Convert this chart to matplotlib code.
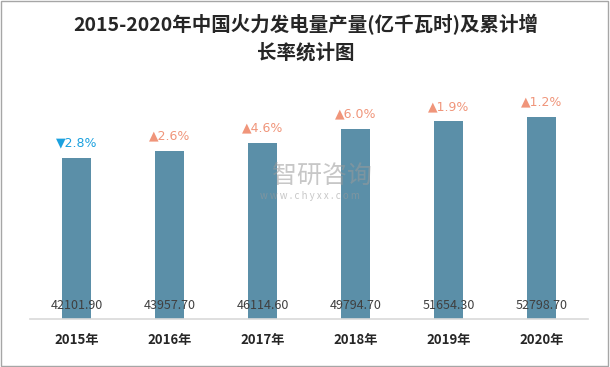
import matplotlib
matplotlib.use("Agg")
import matplotlib.pyplot as plt

plt.rcParams['font.family'] = ['Noto Sans CJK SC', 'DejaVu Sans']

years = ["2015年", "2016年", "2017年", "2018年", "2019年", "2020年"]
values = [42101.90, 43957.70, 46114.60, 49794.70, 51654.30, 52798.70]
growth = [-2.8, 2.6, 4.6, 6.0, 1.9, 1.2]

W, H = 610, 367
fig = plt.figure(figsize=(W / 100, H / 100), dpi=100)

# figure border
fig.patches.append(plt.Rectangle((0.002, 0.003), 0.994, 0.994, transform=fig.transFigure,
                                 fill=False, edgecolor='#a6a6a6', linewidth=1.0))

ax_left, ax_right = 30 / W, 588 / W
ax_bottom, ax_top = (H - 319) / H, (H - 80) / H
ax = fig.add_axes([ax_left, ax_bottom, ax_right - ax_left, ax_top - ax_bottom])

x = list(range(len(years)))
ax.bar(x, values, width=0.31, color='#5B8FA8', zorder=2)
ax.set_xlim(-0.5, len(years) - 0.5)
ax.set_ylim(0, 62500)

for s in ['top', 'right', 'left']:
    ax.spines[s].set_visible(False)
ax.spines['bottom'].set_color('#d9d9d9')
ax.spines['bottom'].set_linewidth(1.2)
ax.set_yticks([])
ax.set_xticks(x)
ax.set_xticklabels(years, fontsize=9.5, fontweight='bold', color='#262626')
ax.tick_params(axis='x', length=0, pad=10)

for xi, v, g in zip(x, values, growth):
    ax.text(xi, 3500, f"{v:.2f}", ha='center', va='center', fontsize=9, color='#404040', zorder=3)
    if g < 0:
        txt, col = f"▼{abs(g):.1f}%", '#1BA1DF'
    else:
        txt, col = f"▲{g:.1f}%", '#F0957A'
    ax.text(xi, v + 3900, txt, ha='center', va='center', fontsize=9, color=col,
            family=['DejaVu Sans'])

# watermark
fig.text(322 / W, 1 - 176 / H, "智研咨询", ha='center', va='center', fontsize=18,
         color='#9a9a9a', alpha=0.55, zorder=5)
fig.text(310 / W, 1 - 196 / H, "w w w . c h y x x . c o m", ha='center', va='center', fontsize=7,
         color='#9a9a9a', alpha=0.55, zorder=5)

fig.text(306 / W, 1 - 25 / H, "2015-2020年中国火力发电量产量(亿千瓦时)及累计增", ha='center', va='center',
         fontsize=14, fontweight='bold', color='#262626')
fig.text(306 / W, 1 - 53 / H, "长率统计图", ha='center', va='center',
         fontsize=14, fontweight='bold', color='#262626')

fig.savefig("out.png", dpi=100)
